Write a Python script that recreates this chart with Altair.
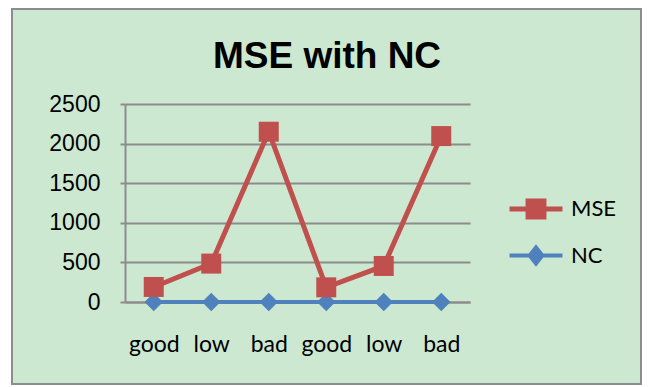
import altair as alt
import pandas as pd

# Series values per test case
categories = ["good", "low", "bad", "good", "low", "bad"]
mse_values = [190, 485, 2150, 185, 455, 2095]
nc_values = [1, 1, 1, 1, 1, 1]
series_names = ["MSE", "NC"]
y_ticks = [0, 500, 1000, 1500, 2000, 2500]
chart_title = "MSE with NC"

RED = "#C0504D"
BLUE = "#4F81BD"
GRID = "#8C8C8C"
PANEL = "#CDE8D0"

rows = []
for i, v in enumerate(nc_values):
    rows.append({"idx": i, "series": "NC", "value": v})
for i, v in enumerate(mse_values):
    rows.append({"idx": i, "series": "MSE", "value": v})
df = pd.DataFrame(rows)

label_expr = "[" + ",".join(f"'{c}'" for c in categories) + "][datum.value]"

# legend glyphs: a line with the series marker in its middle
square_glyph = "M-1,0H1M-0.3,-0.3H0.3V0.3H-0.3Z"
diamond_glyph = "M-1,0H1M-0.24,0L0,-0.3L0.24,0L0,0.3Z"

x_enc = alt.X(
    "idx:O",
    axis=alt.Axis(
        title=None,
        labelExpr=label_expr,
        labelAngle=0,
        labelFont="Lato",
        labelFontSize=23,
        labelColor="black",
        labelPadding=31,
        ticks=False,
        domainColor=GRID,
        domainWidth=2,
        grid=False,
    ),
)
y_enc = alt.Y(
    "value:Q",
    scale=alt.Scale(domain=[0, 2500], nice=False),
    axis=alt.Axis(
        title=None,
        values=y_ticks,
        format="d",
        labelFont="Liberation Sans",
        labelFontSize=23,
        labelColor="black",
        labelPadding=20,
        tickSize=5,
        tickColor=GRID,
        tickWidth=2,
        domainColor=GRID,
        domainWidth=2,
        gridColor=GRID,
        gridWidth=2,
    ),
)

leg = alt.Legend(
    title=None,
    orient="none",
    legendX=382,
    legendY=76,
    symbolSize=2809,
    symbolStrokeWidth=4,
    symbolOpacity=1,
    labelFont="Lato",
    labelFontSize=22,
    labelColor="black",
    labelOffset=6,
    rowPadding=0,
)
series_colors = alt.Scale(domain=series_names, range=[RED, BLUE])

lines = alt.Chart(df).mark_line().encode(
    x=x_enc,
    y=y_enc,
    stroke=alt.Stroke("series:N", scale=series_colors, sort=series_names, legend=leg),
    detail="series:N",
    strokeWidth=alt.StrokeWidth(
        "series:N", scale=alt.Scale(domain=series_names, range=[5, 4]), legend=None
    ),
    order="idx:O",
)

nc_points = (
    alt.Chart(df)
    .transform_filter(alt.datum.series == "NC")
    .mark_point(filled=True, opacity=1, shape="diamond", size=340, color=BLUE)
    .encode(x=x_enc, y=y_enc)
)
mse_points = (
    alt.Chart(df)
    .transform_filter(alt.datum.series == "MSE")
    .mark_point(filled=True, opacity=1, shape="square", size=400, color=RED)
    .encode(x=x_enc, y=y_enc)
)

# carries the legend glyphs only; draws no marks
legend_layer = (
    alt.Chart(df)
    .transform_filter("false")
    .mark_point(filled=True)
    .encode(
        x=x_enc,
        y=y_enc,
        fill=alt.Fill("series:N", scale=series_colors, sort=series_names, legend=leg),
        stroke=alt.Stroke("series:N", scale=series_colors, sort=series_names, legend=leg),
        shape=alt.Shape(
            "series:N",
            scale=alt.Scale(domain=series_names, range=[square_glyph, diamond_glyph]),
            sort=series_names,
            legend=leg,
        ),
    )
)

frame_data = alt.Data(values=[{"k": 0}])

# chart title, centred on the panel
title = alt.Chart(alt.Data(values=[{"t": chart_title}])).mark_text(
    font="Liberation Sans",
    fontSize=37,
    fontWeight="bold",
    color="black",
    align="center",
    baseline="alphabetic",
).encode(text="t:N", x=alt.value(202), y=alt.value(-36))

# white margin around the panel
outer = alt.Chart(frame_data).mark_rect(
    fill=None, stroke="white", strokeWidth=24, clip=False
).encode(
    x=alt.value(-125), x2=alt.value(528), y=alt.value(-107), y2=alt.value(292)
)

# grey panel border
border = alt.Chart(frame_data).mark_rect(
    fill=None, stroke=GRID, strokeWidth=2, clip=False
).encode(
    x=alt.value(-113), x2=alt.value(516), y=alt.value(-95), y2=alt.value(280)
)

chart = (
    alt.layer(lines, nc_points, mse_points, legend_layer, title, outer, border)
    .properties(
        width=345,
        height=198,
        padding={"left": 125, "top": 104, "right": 178, "bottom": 85},
        autosize=alt.AutoSizeParams(type="none"),
        background=PANEL,
    )
    .configure_view(stroke=None)
)

chart.save("out.html", embed_options={"renderer": "svg", "actions": False})
